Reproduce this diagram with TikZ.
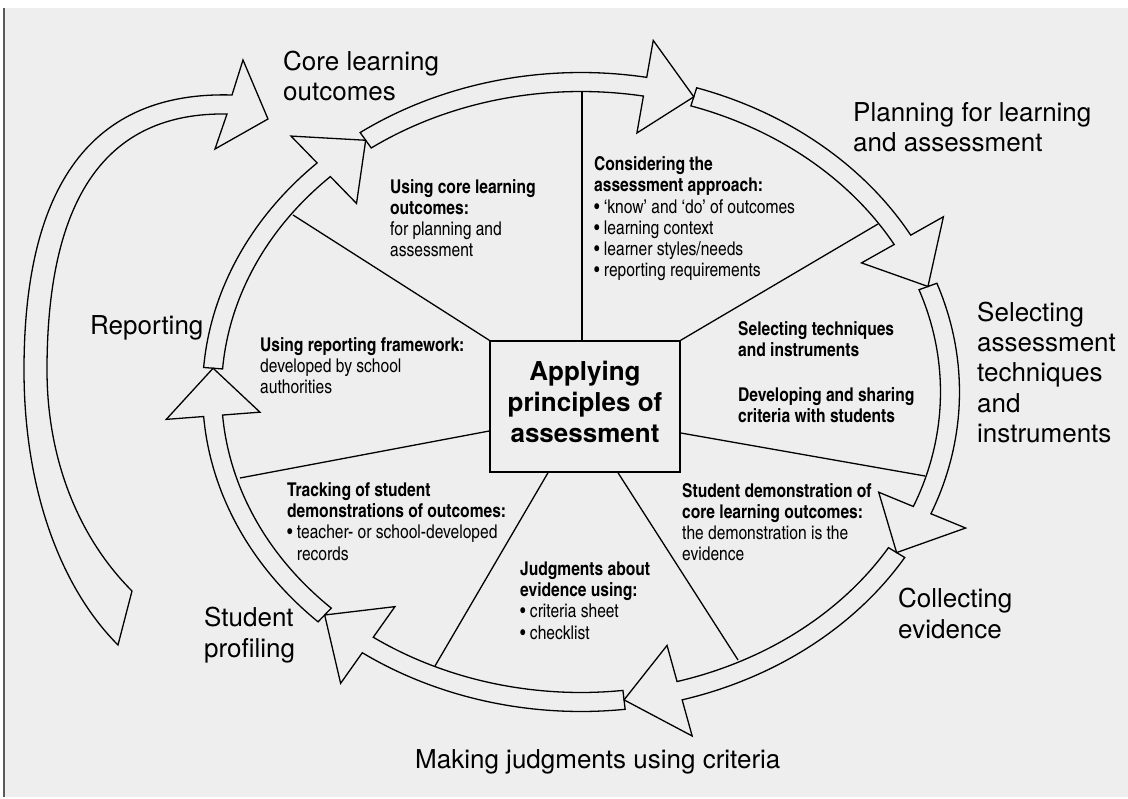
\documentclass[tikz,border=0pt]{standalone}
\usepackage{fontspec}
\setmainfont{TeX Gyre Heros}
\newfontfamily\narrowfont{texgyreheroscn}[Extension=.otf,UprightFont=*-regular,BoldFont=*-bold]
\usetikzlibrary{positioning,calc}
\definecolor{panel}{HTML}{EEEEEE}
\definecolor{rim}{HTML}{5A5A5A}
\tikzstyle{band} = [draw,line width=1.3pt,line join=miter]
\tikzstyle{spoke} = [-,line width=1.3pt]
\tikzstyle{hub} = [draw,line width=1.5pt,minimum width=190pt,minimum height=131pt,inner sep=0,align=center,font=\fontsize{26}{31}\selectfont\bfseries,text depth=10pt]
% multi-line labels sit on the baseline of their last line
\tikzstyle{stage} = [inner sep=0,anchor=base west,align=left,font=\fontsize{26}{30.5}\selectfont]
\tikzstyle{note} = [inner sep=0,anchor=base west,align=left,font=\narrowfont\fontsize{19}{21.3}\selectfont]
\def \cx {581}
\def \cy {392}
\def \ra {369}
\def \rb {310}
\def \bw {9.5}
\def \hw {47}
% one arrow of the ring: tail angle, head base angle, tip angle
\newcommand{\ringarrow}[3]{%
  \draw[band] plot[variable=\t,domain=#1:#2,samples=40] ({\cx+(\ra+\bw)*cos(\t)},{\cy-(\rb+\bw)*sin(\t)})
    -- ({\cx+(\ra+\hw)*cos(#2)},{\cy-(\rb+\hw)*sin(#2)})
    -- ({\cx+\ra*cos(#3)},{\cy-\rb*sin(#3)})
    -- ({\cx+(\ra-\hw)*cos(#2)},{\cy-(\rb-\hw)*sin(#2)})
    -- plot[variable=\t,domain=#2:#1,samples=40] ({\cx+(\ra-\bw)*cos(\t)},{\cy-(\rb-\bw)*sin(\t)})
    -- cycle;}

\begin{document}
\begin{tikzpicture}[x=1pt,y=-1pt]
      \useasboundingbox (0,0) rectangle (1128,799);
      \fill[panel] (4,8) rectangle (1128,797);
      \draw[rim,line width=1.5pt] (4,8) -- (4,797);
      % ring of stages
      \ringarrow{125.7}{80}{72.2}
      \ringarrow{72.2}{29.4}{19.9}
      \ringarrow{19.9}{-22.4}{-31.2}
      \ringarrow{-31.2}{-74.5}{-83.3}
      \ringarrow{-83.3}{-125.3}{-134}
      \ringarrow{-134}{-175.6}{-184.4}
      \ringarrow{175.6}{134.2}{125.7}
      % reporting loop
      \draw[band] (118,645) .. controls (61,588) and (24,490) .. (24,370)
        .. controls (24,185) and (92,91) .. (232,95) -- (243,60) -- (268,119) -- (215,149) -- (227,114)
        .. controls (106,112) and (47,198) .. (47,370)
        .. controls (47,460) and (79,538) .. (132,591) -- cycle;
      % hub and spokes
      \node[hub] (core) at (585,406.5) {Applying\\principles of\\assessment};
      \coordinate (s1) at (582,92);
      \coordinate (s2) at (878,224);
      \coordinate (s3) at (925,476);
      \coordinate (s4) at (738,660);
      \coordinate (s5) at (435,666);
      \coordinate (s6) at (240,478);
      \coordinate (s7) at (293,215);
      \draw[spoke] (core.north -| s1) -- (s1);
      \draw[spoke] (core.north east) -- (s2);
      \draw[spoke] ([yshift=-26.5pt]core.east) -- (s3);
      \draw[spoke] ([xshift=33pt]core.south) -- (s4);
      \draw[spoke] ([xshift=-37pt]core.south) -- (s5);
      \draw[spoke] ([yshift=-24.5pt]core.west) -- (s6);
      \draw[spoke] (core.north west) -- (s7);
      % stage labels
      \node[stage] (outcomes) at (283,101) {Core learning\\outcomes};
      \node[stage] (planning) at (853,152) {Planning for learning\\and assessment};
      \node[stage] (selecting) at (977,443) {Selecting\\assessment\\techniques\\and\\instruments};
      \node[stage] (collecting) at (898,638) {Collecting\\evidence};
      \node[stage] (judging) at (415,768) {Making judgments using criteria};
      \node[stage] (profiling) at (204,657) {Student\\profiling};
      \node[stage] (reporting) at (90,335) {Reporting};
      % notes in the sectors
      \node[note] (using) at (390,257) {\textbf{Using core learning}\\\textbf{outcomes:}\\for planning and\\assessment};
      \node[note] (approach) at (594,277) {\textbf{Considering the}\\\textbf{assessment approach:}\\• ‘know’ and ‘do’ of outcomes\\• learning context\\• learner styles/needs\\• reporting requirements};
      \node[note] (techniques) at (738,423) {\textbf{Selecting techniques}\\\textbf{and instruments}\\[23.7pt]\textbf{Developing and sharing}\\\textbf{criteria with students}};
      \node[note] (demo) at (682,561) {\textbf{Student demonstration of}\\\textbf{core learning outcomes:}\\the demonstration is the\\evidence};
      \node[note] (judgments) at (520,639) {\textbf{Judgments about}\\\textbf{evidence using:}\\• criteria sheet\\• checklist};
      \node[note] (tracking) at (287,560) {\textbf{Tracking of student}\\\textbf{demonstrations of outcomes:}\\• teacher- or school-developed\\\phantom{• }records};
      \node[note] (framework) at (260,394) {\textbf{Using reporting framework:}\\developed by school\\authorities};
\end{tikzpicture}
\end{document}
